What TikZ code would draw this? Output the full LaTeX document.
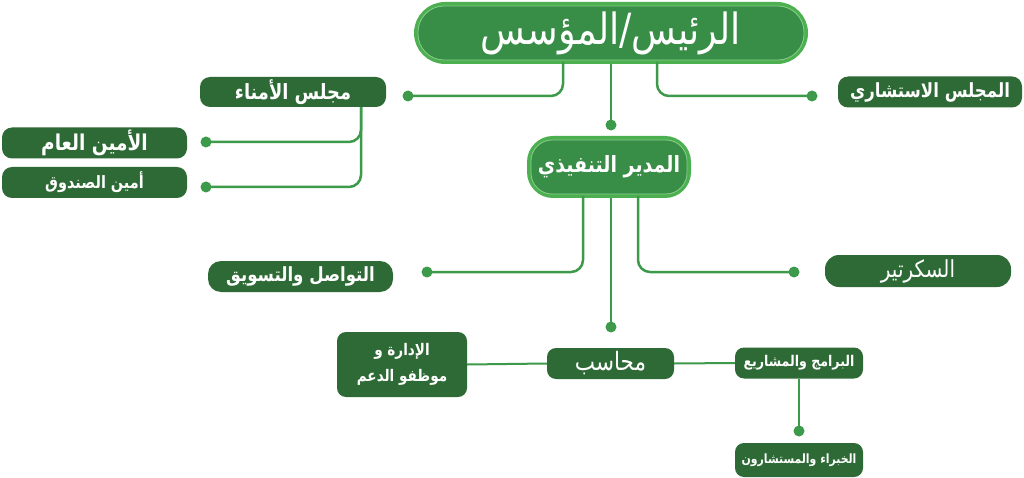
\documentclass[tikz,border=0pt]{standalone}
\usepackage{graphicx}
\usepackage{fontspec}
\TeXXeTstate=1
\newfontfamily\arabicfont[Script=Arabic]{DejaVu Sans}
\newcommand{\artxt}[1]{\scalebox{0.85}[1]{\beginR #1\endR}}
\newcommand{\arfs}[1]{\fontsize{#1}{#1}\selectfont}
\definecolor{dgreen}{HTML}{2D6A35}
\definecolor{mgreen}{HTML}{398E47}
\definecolor{bgreen}{HTML}{4CAF50}
\definecolor{igreen}{HTML}{86CB8B}
\definecolor{cgreen}{HTML}{3D9A4B}
\tikzset{
  box/.style={fill=dgreen, text=white, rounded corners=10pt, inner sep=0pt, font=\arabicfont\bfseries\arfs{19}},
  regbox/.style={box, font=\arabicfont\arfs{23.5}},
  bigbox/.style={fill=mgreen, draw=bgreen, line width=4pt, text=white, inner sep=0pt},
  innerline/.style={draw=igreen, line width=0.8pt},
  conn/.style={draw=cgreen, line width=2.5pt, rounded corners=12pt},
  dotn/.style={circle, fill=cgreen, inner sep=0pt, minimum size=11pt},
}
\begin{document}
\begin{tikzpicture}[x=1pt,y=-1pt]
\useasboundingbox[fill=white] (0,0) rectangle (1024,478);
% top node
\node[bigbox, minimum width=390pt, minimum height=58pt, rounded corners=29pt,
      font=\arabicfont\arfs{43}] (top) at (611,33) {\artxt{الرئيس/المؤسس}};
\draw[innerline, rounded corners=26pt] ([xshift=4pt,yshift=-4pt]top.north west) rectangle ([xshift=-4pt,yshift=4pt]top.south east);
% executive
\node[bigbox, minimum width=160pt, minimum height=58pt, rounded corners=24pt,
      font=\arabicfont\bfseries\arfs{22.4}] (exec) at (609,167) {\artxt{المدير التنفيذي}};
\draw[innerline, rounded corners=21pt] ([xshift=4pt,yshift=-4pt]exec.north west) rectangle ([xshift=-4pt,yshift=4pt]exec.south east);
% boxes
\node[box, minimum width=186pt, minimum height=30pt, font=\arabicfont\bfseries\arfs{21}] (board) at (293,92) {\artxt{مجلس الأمناء}};
\node[box, minimum width=184pt, minimum height=31pt, font=\arabicfont\bfseries\arfs{19.5}] (advis) at (930,92) {\artxt{المجلس الاستشاري}};
\node[box, minimum width=185pt, minimum height=31pt, font=\arabicfont\bfseries\arfs{21.8}] (secgen) at (94.5,143) {\artxt{الأمين العام}};
\node[box, minimum width=185pt, minimum height=31pt, font=\arabicfont\bfseries\arfs{17}] (treas) at (94.5,182.5) {\artxt{أمين الصندوق}};
\node[box, minimum width=185pt, minimum height=31pt, rounded corners=13pt, font=\arabicfont\bfseries\arfs{19.5}] (market) at (300.5,276.5) {\artxt{التواصل والتسويق}};
\node[regbox, minimum width=186pt, minimum height=32pt, rounded corners=14pt] (secr) at (918,271) {\artxt{السكرتير}};
\node[regbox, minimum width=127pt, minimum height=31pt, rounded corners=9pt, font=\arabicfont\arfs{25.3}] (acct) at (610.5,363.5) {\artxt{محاسب}};
\node[box, minimum width=130pt, minimum height=65pt, rounded corners=9pt, align=center,
      font=\arabicfont\bfseries\fontsize{16}{26}\selectfont] (admin) at (402,364.5) {\artxt{الإدارة و}\\\artxt{موظفو الدعم}};
\node[box, minimum width=128pt, minimum height=31pt, rounded corners=9pt, font=\arabicfont\bfseries\arfs{14.8}] (prog) at (799,363) {\artxt{البرامج والمشاريع}};
\node[box, minimum width=128pt, minimum height=34pt, rounded corners=9pt, font=\arabicfont\bfseries\arfs{12.8}] (expert) at (799,460) {\artxt{الخبراء والمستشارون}};
% dots
\node[dotn] (d1) at (408,96) {};
\node[dotn] (d2) at (812,96) {};
\node[dotn] (d3) at (611,125) {};
\node[dotn] (d4) at (427,272) {};
\node[dotn] (d5) at (794,272) {};
\node[dotn] (d6) at (611,327) {};
\node[dotn] (d7) at (206,142) {};
\node[dotn] (d8) at (206,187) {};
\node[dotn] (d9) at (799,431) {};
% connectors
\draw[conn] ([xshift=-48pt,yshift=2pt]top.south) |- (d1.center);
\draw[conn] ([xshift=46pt,yshift=2pt]top.south) |- (d2.center);
\draw[conn] (top.south) -- (d3.center);
\draw[conn] ([xshift=-26pt,yshift=2pt]exec.south) |- (d4.center);
\draw[conn] ([xshift=29pt,yshift=2pt]exec.south) |- (d5.center);
\draw[conn] ([xshift=2pt]exec.south) -- (d6.center);
\draw[conn] ([xshift=68pt]board.south) |- (d7.center);
\draw[conn] ([xshift=68pt]board.south) |- (d8.center);
\draw[conn, line width=2pt] (admin.east) -- (acct.west);
\draw[conn, line width=2pt] (acct.east) -- (prog.west);
\draw[conn, line width=2pt] (prog.south) -- (d9.center);
\end{tikzpicture}
\end{document}
